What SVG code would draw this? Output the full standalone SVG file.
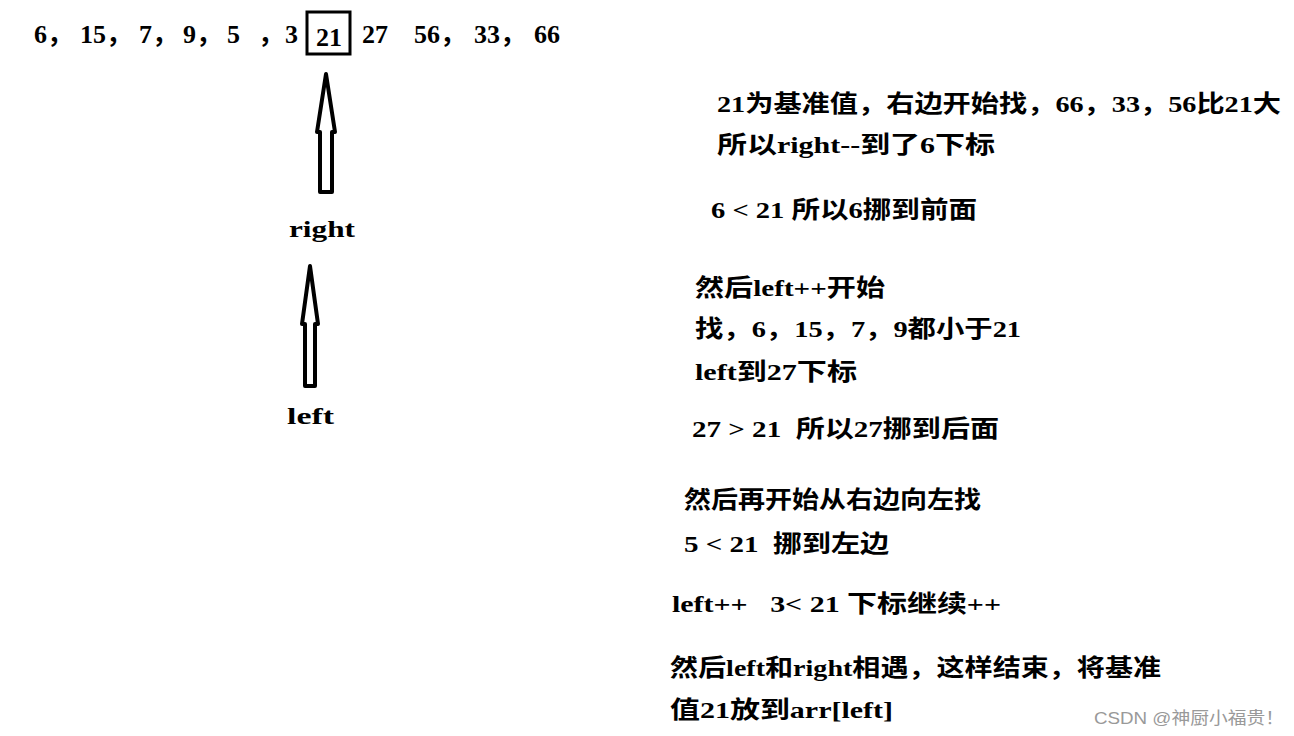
<svg xmlns="http://www.w3.org/2000/svg" width="1294" height="736" viewBox="0 0 1294 736">
<style>
text{font-family:"Liberation Serif","Noto Sans CJK SC",serif;font-weight:bold;fill:#000}
.t{font-size:24px}
.n{font-size:26px}
.a{fill:#fff;stroke:#000;stroke-width:4;stroke-linejoin:round}
</style>
<rect width="1294" height="736" fill="#fff"/>
<g id="list">
<text class="n" x="34" y="43">6，</text>
<text class="n" x="80" y="43">15，</text>
<text class="n" x="139" y="43">7，</text>
<text class="n" x="183" y="43">9，</text>
<text class="n" x="227" y="43">5</text>
<text class="n" x="258" y="43">，</text>
<text class="n" x="285" y="43">3</text>
<rect x="307" y="12" width="43" height="42" fill="none" stroke="#000" stroke-width="3"/>
<text class="n" x="316" y="46">21</text>
<text class="n" x="362" y="43">27</text>
<text class="n" x="414" y="43">56，</text>
<text class="n" x="474" y="43">33，</text>
<text class="n" x="534" y="43">66</text>
</g>
<g id="connectors">
<path class="a" d="M326,74 L335,132 L332,132 L332,192 L320,192 L320,132 L317,132 Z"/>
<path class="a" d="M310,266 L318,324 L315,324 L315,386 L305,386 L305,324 L302,324 Z"/>
</g>
<g id="labels">
<text class="t" x="289" y="237" textLength="66" lengthAdjust="spacingAndGlyphs">right</text>
<text class="t" x="287" y="424" textLength="47" lengthAdjust="spacingAndGlyphs">left</text>
</g>
<g id="notes">
<text class="t" x="717" y="112" textLength="564" lengthAdjust="spacingAndGlyphs">21为基准值，右边开始找，66，33，56比21大</text>
<text class="t" x="717" y="153" textLength="278" lengthAdjust="spacingAndGlyphs">所以right--到了6下标</text>
<text class="t" x="711" y="218" textLength="266" lengthAdjust="spacingAndGlyphs">6 &lt; 21 所以6挪到前面</text>
<text class="t" x="695" y="296" textLength="190" lengthAdjust="spacingAndGlyphs">然后left++开始</text>
<text class="t" x="695" y="337" textLength="326" lengthAdjust="spacingAndGlyphs">找，6，15，7，9都小于21</text>
<text class="t" x="695" y="380" textLength="162" lengthAdjust="spacingAndGlyphs">left到27下标</text>
<text class="t" x="692" y="437" xml:space="preserve" textLength="307" lengthAdjust="spacingAndGlyphs">27 &gt; 21  所以27挪到后面</text>
<text class="t" x="684" y="508" textLength="297" lengthAdjust="spacingAndGlyphs">然后再开始从右边向左找</text>
<text class="t" x="684" y="552" xml:space="preserve" textLength="205" lengthAdjust="spacingAndGlyphs">5 &lt; 21  挪到左边</text>
<text class="t" x="672" y="612" xml:space="preserve" textLength="329" lengthAdjust="spacingAndGlyphs">left++   3&lt; 21 下标继续++</text>
<text class="t" x="670" y="676" textLength="491" lengthAdjust="spacingAndGlyphs">然后left和right相遇，这样结束，将基准</text>
<text class="t" x="670" y="718" textLength="223" lengthAdjust="spacingAndGlyphs">值21放到arr[left]</text>
</g>
<text x="1094" y="724" textLength="190" lengthAdjust="spacingAndGlyphs" style="font-family:'Liberation Sans','Noto Sans CJK SC',sans-serif;font-weight:normal;font-size:17px;fill:#999">CSDN @神厨小福贵！</text>
</svg>
